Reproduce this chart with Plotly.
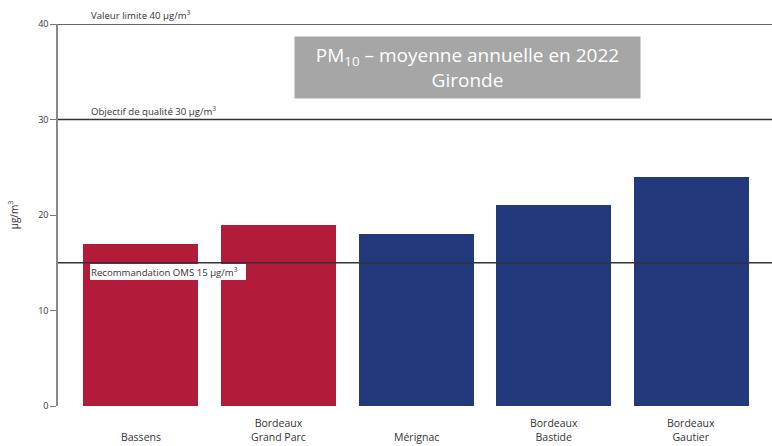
import plotly.graph_objects as go

# PM10 annual means 2022, Gironde stations
stations = ["Bassens", "Bordeaux<br>Grand Parc", "Mérignac", "Bordeaux<br>Bastide", "Bordeaux<br>Gautier"]
pm10 = [17, 19, 18, 21, 24]
bar_colors = ["#B21C3A", "#B21C3A", "#22397B", "#22397B", "#22397B"]

# Regulatory / guideline thresholds
thresholds = [40, 30, 15]
threshold_labels = [
    "Valeur limite 40 μg/m<sup>3</sup>",
    "Objectif de qualité 30 μg/m<sup>3</sup>",
    "Recommandation OMS 15 μg/m<sup>3</sup>",
]

FONT = "Open Sans, Noto Sans, sans-serif"
TXT = "#333333"

xs = list(range(len(stations)))

fig = go.Figure()
fig.add_trace(go.Bar(
    x=xs, y=pm10, width=0.835,
    marker=dict(color=bar_colors, line=dict(width=0)),
    hoverinfo="skip", showlegend=False,
))

shapes = []
for t in thresholds:
    shapes.append(dict(type="line", xref="paper", x0=0, x1=1, yref="y", y0=t, y1=t,
                       line=dict(color="#333333", width=1.5), layer="above"))

annotations = []
# threshold labels
for t, lab in zip(thresholds, threshold_labels):
    below = t == 15
    annotations.append(dict(
        x=0.0448, xref="paper", xanchor="left",
        y=t, yref="y", yanchor="top" if below else "bottom",
        yshift=-1 if below else 1,
        text=lab + ("&nbsp;&nbsp;&nbsp;" if below else ""), showarrow=False,
        font=dict(family=FONT, size=9.6, color=TXT),
        bgcolor="white" if below else "rgba(0,0,0,0)",
        borderwidth=0, borderpad=1,
    ))

# station labels, bottom-aligned below the axis
for x, name in zip(xs, stations):
    annotations.append(dict(
        x=x, xref="x", xanchor="center",
        y=0, yref="paper", yanchor="bottom", yshift=-40,
        text=name, showarrow=False, align="center",
        font=dict(family=FONT, size=10.5, color=TXT),
    ))

# title box
annotations.append(dict(
    x=(468 - 58) / 714, xref="paper", xanchor="center",
    y=(406 - 67.5) / 382, yref="paper", yanchor="middle",
    text="PM<sub>10</sub> – moyenne annuelle en 2022<br>Gironde",
    showarrow=False, align="center",
    font=dict(family=FONT, size=19, color="white"),
    bgcolor="#A6A6A6", borderpad=4, width=337, height=53,
))

fig.update_layout(
    width=772, height=446,
    margin=dict(l=58, r=0, t=24, b=40),
    paper_bgcolor="white", plot_bgcolor="white",
    bargap=0,
    xaxis=dict(range=[-0.6, 4.585], showticklabels=False, showline=False,
               showgrid=False, zeroline=False, ticks=""),
    yaxis=dict(range=[0, 40], tickvals=[0, 10, 20, 30, 40], ticks="outside",
               ticklen=6, tickcolor="#777777", showline=True, linecolor="#888888",
               linewidth=1.5, showgrid=False, zeroline=False,
               tickfont=dict(family=FONT, size=9, color=TXT),
               title=dict(text="μg/m<sup>3</sup>", font=dict(family=FONT, size=10, color=TXT),
                          standoff=18)),
    shapes=shapes,
    annotations=annotations,
)

fig.write_html("out.html")
